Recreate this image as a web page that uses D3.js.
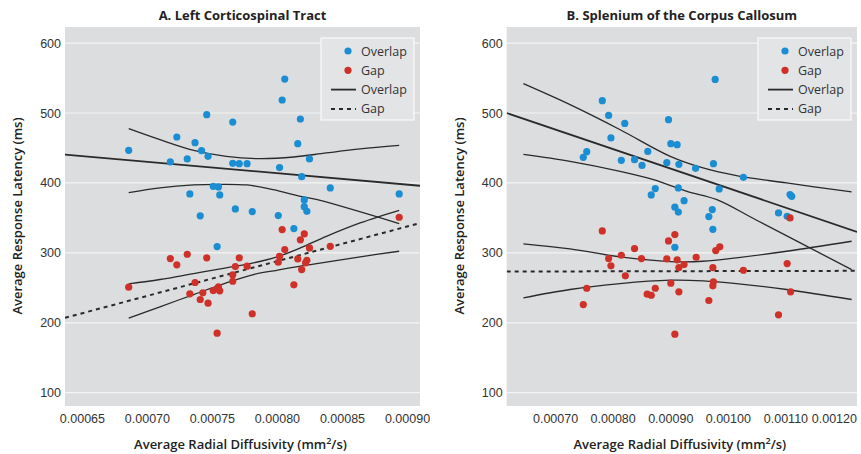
<!DOCTYPE html>
<html>
<head>
<meta charset="UTF-8">
<style>
  body { margin: 0; background: #fff; }
  svg { display: block; font-family: "Open Sans", sans-serif; }
  .tick text { fill: #333; font-size: 12.5px; }
</style>
</head>
<body>
<svg id="chart" width="861" height="454"></svg>
<script src="https://d3js.org/d3.v7.min.js"></script>
<script>
// ---- data ----
const yTicks = [100, 200, 300, 400, 500, 600];
const cstTicks = [0.00065, 0.00070, 0.00075, 0.00080, 0.00085, 0.00090];
const sccTicks = [0.00070, 0.00080, 0.00090, 0.00100, 0.00110, 0.00120];

// A. Left corticospinal tract
const cstOverlap = [[0.000686,446.6],[0.000718,430],[0.000723,465.7],[0.000731,434.3],[0.000733,384.3],
  [0.000737,457.6],[0.000742,446.1],[0.000746,497.6],[0.000747,438],[0.000751,395.1],[0.000755,394.3],
  [0.000756,382.9],[0.000741,352.9],[0.000766,487.1],[0.000766,428],[0.000771,427.6],[0.000777,427.6],
  [0.000768,362.9],[0.000781,359],[0.000801,353.3],[0.000802,421.9],[0.000806,548.6],[0.000804,518.6],
  [0.000816,456.1],[0.000818,491.4],[0.000819,409],[0.000821,375.7],[0.000821,366.1],[0.000823,359.4],
  [0.000825,434.3],[0.000841,392.9],[0.000894,384.3],[0.000754,309],[0.000813,334.7]];
const cstGap = [[0.000686,250.9],[0.000718,291.9],[0.000723,282.9],[0.000731,298],[0.000733,241.4],
  [0.000737,257.6],[0.000741,233.3],[0.000743,242.9],[0.000746,292.9],[0.000747,228],[0.000751,246.1],
  [0.000754,248.6],[0.000755,251.4],[0.000756,245.7],[0.000754,185.1],[0.000766,259.4],[0.000766,268.6],
  [0.000768,280.4],[0.000771,292.9],[0.000777,280.9],[0.000781,212.9],[0.000801,286.6],[0.000802,295.1],
  [0.000804,333.3],[0.000806,304.7],[0.000813,254.3],[0.000816,291.4],[0.000818,318.6],[0.000821,327.1],
  [0.000819,276.1],[0.000822,285.7],[0.000823,289.4],[0.000825,307.1],[0.000841,309.4],[0.000894,350.9]];
const cstOverlapFit = [[0.000637,440.4],[0.00091,396]];
const cstOverlapUpper = [[0.000686,477.6],[0.000710,461.9],[0.000736,446.6],[0.000761,438],[0.000787,434.7],
  [0.000813,437.1],[0.000838,442.9],[0.000864,448.6],[0.000894,453.7]];
const cstOverlapLower = [[0.000686,386.1],[0.000710,392.9],[0.000736,397.1],[0.000754,398],[0.000777,397.1],
  [0.000797,390.4],[0.000818,380.9],[0.000831,376.1],[0.000894,341.9]];
const cstGapFit = [[0.000637,207.1],[0.00091,342.6]];
const cstGapUpper = [[0.000686,255.7],[0.000710,261.9],[0.000736,270.4],[0.000761,278.6],[0.000782,285.7],
  [0.000800,294.3],[0.000818,307.1],[0.000838,323.7],[0.000864,342.9],[0.000894,360.9]];
const cstGapLower = [[0.000686,206.6],[0.000710,222.9],[0.000736,240.4],[0.000761,257.1],[0.000782,269],
  [0.000800,275.1],[0.000818,280.9],[0.000838,286.6],[0.000864,294.3],[0.000894,302.3]];

// B. Splenium of the corpus callosum
const sccOverlap = [[0.000749,436.6],[0.000755,444.7],[0.000782,517.6],[0.000793,496.6],[0.000797,464.3],
  [0.000815,432.3],[0.000821,485.1],[0.000838,433.3],[0.000851,425.1],[0.000861,445.1],[0.000867,382.9],
  [0.000874,391.9],[0.000894,429],[0.000897,490.4],[0.000901,456.1],[0.000912,454.7],[0.000915,426.6],
  [0.000914,392.9],[0.000924,374.7],[0.000908,365.4],[0.000914,358.3],[0.000944,420.9],[0.000978,548],
  [0.000975,427.6],[0.000985,391.4],[0.000967,351.9],[0.000973,361.9],[0.001027,408],[0.001108,383.3],
  [0.001111,380.9],[0.001088,357.1],[0.001103,352.3],[0.000974,333.7],[0.000908,308]];
const sccGap = [[0.000749,226.1],[0.000755,249.4],[0.000782,331.4],[0.000793,291.9],[0.000797,281.4],
  [0.000815,296.6],[0.000822,267.1],[0.000838,306.1],[0.000850,291.9],[0.000860,240.9],[0.000867,239.4],
  [0.000874,249.4],[0.000894,291.4],[0.000897,317.1],[0.000901,256.6],[0.000908,326.1],[0.000908,183.7],
  [0.000912,290],[0.000915,279],[0.000915,244.3],[0.000924,283.3],[0.000945,293.7],[0.000967,231.9],
  [0.000974,279],[0.000975,258.6],[0.000974,252.9],[0.000979,303.3],[0.000986,308.6],[0.001027,275.1],
  [0.001088,211.4],[0.001103,284.7],[0.001109,244.3],[0.001108,350]];
const sccOverlapFit = [[0.000616,500],[0.0012243,330]];
const sccOverlapUpper = [[0.000645,541.9],[0.000726,511.9],[0.000813,476.1],[0.0009,438],[0.000957,421.4],
  [0.001015,410.4],[0.001102,400],[0.001215,387.1]];
const sccOverlapLower = [[0.000645,440.9],[0.000726,430.9],[0.000813,416.6],[0.000871,404.7],[0.000929,388],
  [0.000981,376.1],[0.00105,346.6],[0.001215,276.1]];
const sccGapFit = [[0.000616,273.3],[0.0012243,274.3]];
const sccGapUpper = [[0.000645,312.9],[0.000726,305.7],[0.000813,294.3],[0.0009,287.6],[0.000957,288],
  [0.001015,292.9],[0.001102,302.3],[0.001215,316.6]];
const sccGapLower = [[0.000645,235.7],[0.000726,247.6],[0.000813,256.1],[0.0009,260.9],[0.000957,260],
  [0.001015,256.1],[0.001102,247.6],[0.001215,233.3]];

const blue = "#1b8ed3", red = "#cf3128";
const svg = d3.select("#chart");

function drawPanel(p) {
  const x = d3.scaleLinear().domain(p.xDomain).range([p.left, p.right]);
  const y = d3.scaleLinear().domain([81, 623]).range([406, 27]);
  const g = svg.append("g");

  g.append("rect").attr("x", p.left).attr("y", 27)
    .attr("width", p.right - p.left).attr("height", 379).attr("fill", "#dcdddf");

  g.selectAll(".grid").data(yTicks).enter().append("line")
    .attr("x1", p.left).attr("x2", p.right)
    .attr("y1", d => y(d)).attr("y2", d => y(d))
    .attr("stroke", "#f4f4f4").attr("stroke-width", 1.2);

  // axes
  const ya = g.append("g").attr("transform", "translate(" + p.left + ",0)")
    .call(d3.axisLeft(y).tickValues(yTicks).tickSize(0).tickPadding(4));
  ya.select(".domain").remove();

  const xa = g.append("g").attr("transform", "translate(0,406)")
    .call(d3.axisBottom(x).tickValues(p.ticks).tickSize(0).tickPadding(8).tickFormat(d3.format(".5f")));
  xa.select(".domain").remove();
  // keep the last label inside the page, as in the original
  xa.selectAll("text").each(function() {
    const r = this.getBoundingClientRect().right;
    if (r > 857) d3.select(this).attr("dx", -(r - 857));
  });

  g.append("text").attr("x", (p.left + p.right) / 2).attr("y", 20)
    .attr("text-anchor", "middle").attr("font-size", 13).attr("font-weight", 700)
    .attr("fill", "#222").text(p.title);

  const xl = g.append("text").attr("x", (p.left + p.right) / 2 - 2).attr("y", 449)
    .attr("text-anchor", "middle").attr("font-size", 13).attr("font-weight", 600).attr("fill", "#222");
  xl.append("tspan").text("Average Radial Diffusivity (mm");
  xl.append("tspan").attr("dy", -5).attr("font-size", 9).text("2");
  xl.append("tspan").attr("dy", 5).text("/s)");

  g.append("text").attr("transform", "translate(" + (p.left - 43) + ",216) rotate(-90)")
    .attr("text-anchor", "middle").attr("font-size", 13).attr("font-weight", 600)
    .attr("fill", "#222").text("Average Response Latency (ms)");

  // lines
  const clip = "clip-" + p.id;
  g.append("clipPath").attr("id", clip).append("rect")
    .attr("x", p.left).attr("y", 27).attr("width", p.right - p.left).attr("height", 379);
  const line = d3.line().x(d => x(d[0])).y(d => y(d[1])).curve(d3.curveCatmullRom);
  const lg = g.append("g").attr("clip-path", "url(#" + clip + ")").attr("fill", "none");
  [p.overlapUpper, p.overlapLower, p.gapUpper, p.gapLower].forEach(c => {
    lg.append("path").attr("d", line(c)).attr("stroke", "#2a2a2a").attr("stroke-width", 1.3);
  });
  lg.append("path").attr("d", line(p.overlapFit)).attr("stroke", "#2a2a2a").attr("stroke-width", 1.8);
  lg.append("path").attr("d", line(p.gapFit)).attr("stroke", "#2a2a2a").attr("stroke-width", 2)
    .attr("stroke-dasharray", "4,4");

  // points
  g.selectAll(".ov").data(p.overlap).enter().append("circle")
    .attr("cx", d => x(d[0])).attr("cy", d => y(d[1])).attr("r", 3.6).attr("fill", blue);
  g.selectAll(".gp").data(p.gap).enter().append("circle")
    .attr("cx", d => x(d[0])).attr("cy", d => y(d[1])).attr("r", 3.6).attr("fill", red);

  // legend
  const lx = p.right - p.legendW - 6;
  const leg = g.append("g").attr("transform", "translate(" + lx + ",38)");
  leg.append("rect").attr("width", p.legendW).attr("height", 82)
    .attr("fill", "#e3e4e6").attr("stroke", "#fafafa").attr("stroke-width", 1.2);
  const items = [
    {label: "Overlap", type: "dot", color: blue},
    {label: "Gap", type: "dot", color: red},
    {label: "Overlap", type: "line"},
    {label: "Gap", type: "dash"}
  ];
  items.forEach((it, i) => {
    const cy = 13 + i * 19.3;
    const tx = p.legendW - 53;
    if (it.type === "dot") {
      leg.append("circle").attr("cx", tx - 13).attr("cy", cy).attr("r", 3.6).attr("fill", it.color);
    } else {
      leg.append("line").attr("x1", tx - 30).attr("x2", tx - 5).attr("y1", cy).attr("y2", cy)
        .attr("stroke", "#2a2a2a").attr("stroke-width", it.type === "line" ? 1.8 : 2)
        .attr("stroke-dasharray", it.type === "dash" ? "4,4" : null);
    }
    leg.append("text").attr("x", tx).attr("y", cy + 4.5).attr("font-size", 12.5)
      .attr("fill", "#333").text(it.label);
  });
}

drawPanel({
  id: "a", title: "A. Left Corticospinal Tract", left: 65, right: 420,
  xDomain: [0.000637, 0.00091], ticks: cstTicks, legendW: 93,
  overlap: cstOverlap, gap: cstGap,
  overlapFit: cstOverlapFit, overlapUpper: cstOverlapUpper, overlapLower: cstOverlapLower,
  gapFit: cstGapFit, gapUpper: cstGapUpper, gapLower: cstGapLower
});
drawPanel({
  id: "b", title: "B. Splenium of the Corpus Callosum", left: 506.7, right: 857,
  xDomain: [0.000616, 0.0012243], ticks: sccTicks, legendW: 93,
  overlap: sccOverlap, gap: sccGap,
  overlapFit: sccOverlapFit, overlapUpper: sccOverlapUpper, overlapLower: sccOverlapLower,
  gapFit: sccGapFit, gapUpper: sccGapUpper, gapLower: sccGapLower
});
</script>
</body>
</html>
